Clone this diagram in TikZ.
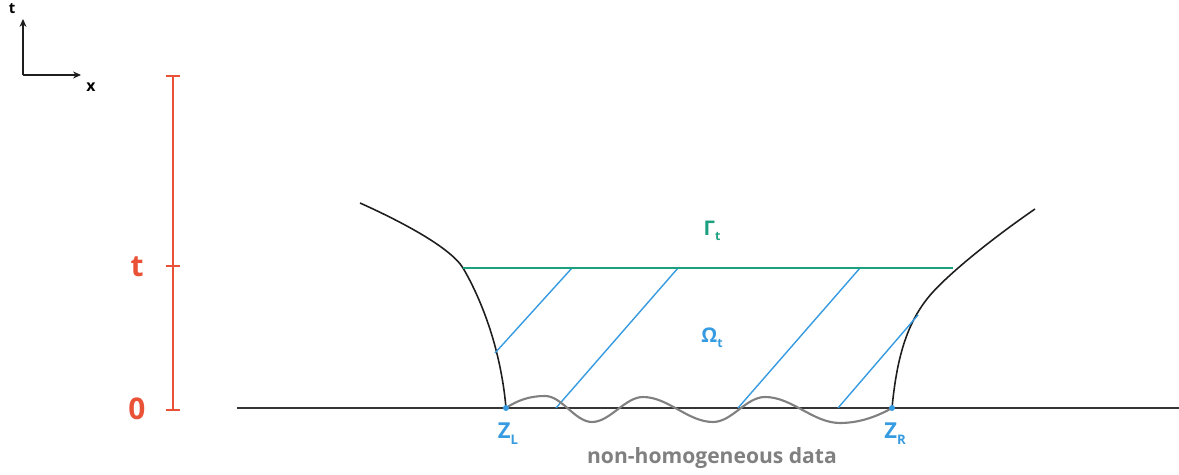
\documentclass[tikz,border=0pt]{standalone}
\usepackage{fontspec}
\setmainfont{Open Sans}
\usepackage{tikz}
\usetikzlibrary{arrows.meta}
\definecolor{scalered}{RGB}{233,82,55}
\definecolor{gammateal}{RGB}{28,160,128}
\definecolor{charblue}{RGB}{55,155,225}
\definecolor{datagrey}{RGB}{128,128,128}
\definecolor{curveblack}{RGB}{30,30,30}
\tikzset{
  axisarr/.style={-{Stealth[length=4.5pt,width=4pt]}, line width=0.6pt, curveblack},
  boundary/.style={line width=0.9pt, curveblack},
  charline/.style={line width=0.8pt, charblue},
  scaletick/.style={line width=0.6pt, scalered},
  scalelbl/.style={font=\fontsize{17}{17}\selectfont\bfseries, text=scalered},
  footlbl/.style={font=\fontsize{12.5}{13}\selectfont\bfseries, text=charblue},
}
\newcommand{\lowsub}[1]{\raisebox{-0.45ex}{\fontsize{7}{7}\selectfont #1}}

\begin{document}
\begin{tikzpicture}[x=0.02cm, y=-0.02cm]
  \useasboundingbox (0,0) rectangle (1179,475);

  % axes icon
  \coordinate (orig) at (23,75);
  \coordinate (tend) at (23,19);
  \coordinate (xend) at (81,75);
  \draw[axisarr] (orig) -- (tend);
  \draw[axisarr] (orig) -- (xend);
  \node[font=\fontsize{8.5}{8}\selectfont\bfseries] (tname) at (12,9) {t};
  \node[font=\fontsize{9}{8}\selectfont\bfseries] (xname) at (91,87) {x};

  % time scale
  \coordinate (stop) at (173,76);
  \coordinate (smid) at (173,266);
  \coordinate (sbot) at (173,410);
  \draw[scaletick] (stop) -- (sbot);
  \foreach \c in {stop,smid,sbot}
    \draw[scaletick] ([xshift=-7*0.02cm]\c) -- ([xshift=7*0.02cm]\c);
  \node[scalelbl] (tlbl) at (137,267) {t};
  \node[scalelbl] (zerolbl) at (137,409) {0};

  % ground
  \coordinate (gl) at (237,408);
  \coordinate (gr) at (1179,408);
  \draw[line width=1.2pt, curveblack!90] (gl) -- (gr);

  % free boundaries
  \coordinate (zl) at (506,408);
  \coordinate (zr) at (892,408);
  \coordinate (gaml) at (463,268);
  \coordinate (gamr) at (953,268);
  \draw[boundary] (360,203) .. controls (400,221) and (450,247) .. (gaml)
    .. controls (476,290) and (500,340) .. (zl);
  \draw[boundary] (zr) .. controls (897,355) and (908,320) .. (932,293)
    .. controls (950,273) and (990,240) .. (1035,209);

  % characteristics
  \coordinate (c1a) at (495,353); \coordinate (c1b) at (572,268);
  \coordinate (c2a) at (556,408); \coordinate (c2b) at (678,268);
  \coordinate (c3a) at (738,408); \coordinate (c3b) at (860,268);
  \coordinate (c4a) at (838,408); \coordinate (c4b) at (918,315);
  \foreach \i in {1,...,4}
    \draw[charline] (c\i a) -- (c\i b);

  % Gamma_t
  \draw[line width=1.6pt, gammateal] (gaml) -- (gamr);
  \node[font=\fontsize{11.5}{12}\selectfont\bfseries, text=gammateal] (gamlbl) at (712,231)
    {Γ\lowsub{t}};
  \node[font=\fontsize{11.5}{12}\selectfont\bfseries, text=charblue] (omlbl) at (712,338)
    {Ω\lowsub{t}};

  % non-homogeneous data
  \draw[line width=1.2pt, datagrey] (zl)
    .. controls (518,400) and (530,396) .. (545,396)
    .. controls (562,396) and (575,422) .. (592,422)
    .. controls (610,422) and (625,397) .. (643,397)
    .. controls (668,397) and (688,422) .. (713,422)
    .. controls (732,422) and (746,397) .. (765,397)
    .. controls (792,397) and (813,423) .. (840,423)
    .. controls (860,423) and (878,416) .. (zr);
  \fill[charblue] (zl) circle[radius=3];
  \fill[charblue] (zr) circle[radius=3];
  \node[footlbl] (zllbl) at (508,434)
    {Z\raisebox{-0.5ex}{\fontsize{7.5}{7}\selectfont L}};
  \node[footlbl] (zrlbl) at (895,434)
    {Z\raisebox{-0.5ex}{\fontsize{7.5}{7}\selectfont R}};
  \node[font=\fontsize{12}{12}\selectfont\bfseries, text=datagrey] (datalbl) at (712,458)
    {non-homogeneous data};
\end{tikzpicture}
\end{document}
